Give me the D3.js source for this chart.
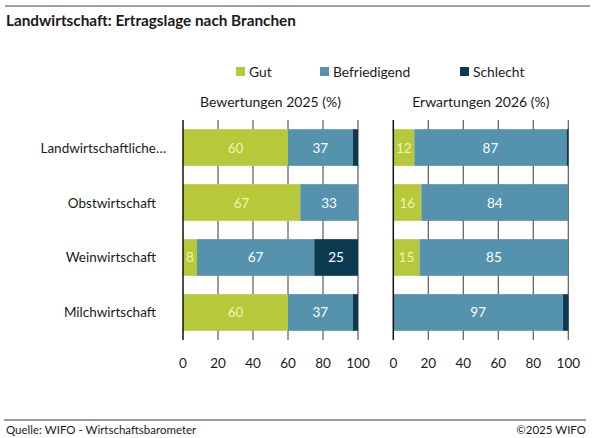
<!DOCTYPE html>
<html><head><meta charset="utf-8">
<script src="https://cdn.jsdelivr.net/npm/d3@7"></script>
<style>
html,body{margin:0;padding:0;background:#fff;}
text{font-family:Lato,"Noto Sans",sans-serif;}
</style></head>
<body><svg id="c" width="594" height="438"></svg>
<script>
const categories = ["Landwirtschaftliche…","Obstwirtschaft","Weinwirtschaft","Milchwirtschaft"];
const seriesNames = ["Gut","Befriedigend","Schlecht"];
const panelTitles = ["Bewertungen 2025 (%)","Erwartungen 2026 (%)"];
const gut2025 = [60,67,8,60];
const befr2025 = [37,33,67,37];
const schl2025 = [3,0,25,3];
const gut2026 = [12,16,15,0];
const befr2026 = [87,84,85,97];
const schl2026 = [1,0,0,3];
const tickValues = [0,20,40,60,80,100];

const colors = ["#b7c93b","#5592ad","#0b3a52"];
const labelColors = ["#f2f3b4","#ffffff","#ffffff"];

const svg = d3.select("#c");

// top rule and title
svg.append("line").attr("x1",5).attr("x2",590).attr("y1",6).attr("y2",6)
  .attr("stroke","#808080").attr("stroke-width",1.5);
svg.append("text").attr("x",6).attr("y",26).text("Landwirtschaft: Ertragslage nach Branchen")
  .attr("font-size",15.3).attr("font-weight",700).attr("fill","#1a1a1a");

// legend
const legX = [236,320,460];
seriesNames.forEach((s,i)=>{
  svg.append("rect").attr("x",legX[i]).attr("y",67).attr("width",9).attr("height",9).attr("fill",colors[i]);
  svg.append("text").attr("x",legX[i]+13).attr("y",76.5).text(s).attr("font-size",13.8).attr("fill","#1a1a1a");
});

const y = d3.scaleBand().domain(categories).range([120,340]).paddingInner(0.333).paddingOuter(0.167);

const panels = [
  {x0:183, data:[gut2025,befr2025,schl2025], title:panelTitles[0]},
  {x0:393.3, data:[gut2026,befr2026,schl2026], title:panelTitles[1]}
];

panels.forEach(p=>{
  const x = d3.scaleLinear().domain([0,100]).range([p.x0,p.x0+175]);
  const g = svg.append("g");
  g.append("text").attr("x",(x(0)+x(100))/2).attr("y",107).attr("text-anchor","middle")
    .text(p.title).attr("font-size",14).attr("fill","#1a1a1a");
  g.selectAll("line.grid").data(tickValues.filter(t=>t>0)).join("line")
    .attr("x1",d=>x(d)).attr("x2",d=>x(d)).attr("y1",120).attr("y2",340)
    .attr("stroke","#5a5a5a").attr("stroke-width",1.2);
  const rows = categories.map((c,i)=>({cat:c, Gut:p.data[0][i], Befriedigend:p.data[1][i], Schlecht:p.data[2][i]}));
  const stack = d3.stack().keys(seriesNames)(rows);
  stack.forEach((layer,li)=>{
    g.selectAll(null).data(layer).join("rect")
      .attr("x",d=>x(d[0])).attr("width",d=>x(d[1])-x(d[0]))
      .attr("y",d=>y(d.data.cat)).attr("height",y.bandwidth())
      .attr("fill",colors[li]);
    g.selectAll(null).data(layer.filter(d=>d[1]-d[0]>=5)).join("text")
      .attr("x",d=>(x(d[0])+x(d[1]))/2).attr("y",d=>y(d.data.cat)+y.bandwidth()/2+5)
      .attr("text-anchor","middle").attr("font-size",13.5).attr("fill",labelColors[li])
      .text(d=>d[1]-d[0]);
  });
  g.append("line").attr("x1",x(0)).attr("x2",x(0)).attr("y1",120).attr("y2",340)
    .attr("stroke","#111").attr("stroke-width",1.5);
  g.selectAll("text.tick").data(tickValues).join("text")
    .attr("x",d=>x(d)).attr("y",368).attr("text-anchor","middle")
    .attr("font-size",13.5).attr("fill","#1a1a1a").text(d=>d);
});

// category labels
categories.forEach(c=>{
  const yy = y(c)+y.bandwidth()/2+5;
  if (c.endsWith("…")) {
    svg.append("text").attr("x",156).attr("y",yy).attr("text-anchor","end")
      .attr("font-size",13.5).attr("fill","#1a1a1a").text(c.slice(0,-1));
    svg.append("text").attr("x",156).attr("y",yy).attr("text-anchor","start")
      .attr("font-size",13.5).attr("fill","#1a1a1a").text("…");
  } else {
    svg.append("text").attr("x",156).attr("y",yy).attr("text-anchor","end")
      .attr("font-size",13.5).attr("fill","#1a1a1a").text(c);
  }
});

// footer
svg.append("line").attr("x1",4).attr("x2",586).attr("y1",420).attr("y2",420)
  .attr("stroke","#9a9a9a").attr("stroke-width",2);
svg.append("text").attr("x",6).attr("y",434).text("Quelle: WIFO - Wirtschaftsbarometer")
  .attr("font-size",11.5).attr("fill","#1a1a1a");
svg.append("text").attr("x",586).attr("y",434).attr("text-anchor","end").text("©2025 WIFO")
  .attr("font-size",11.5).attr("fill","#1a1a1a");
</script></body></html>
